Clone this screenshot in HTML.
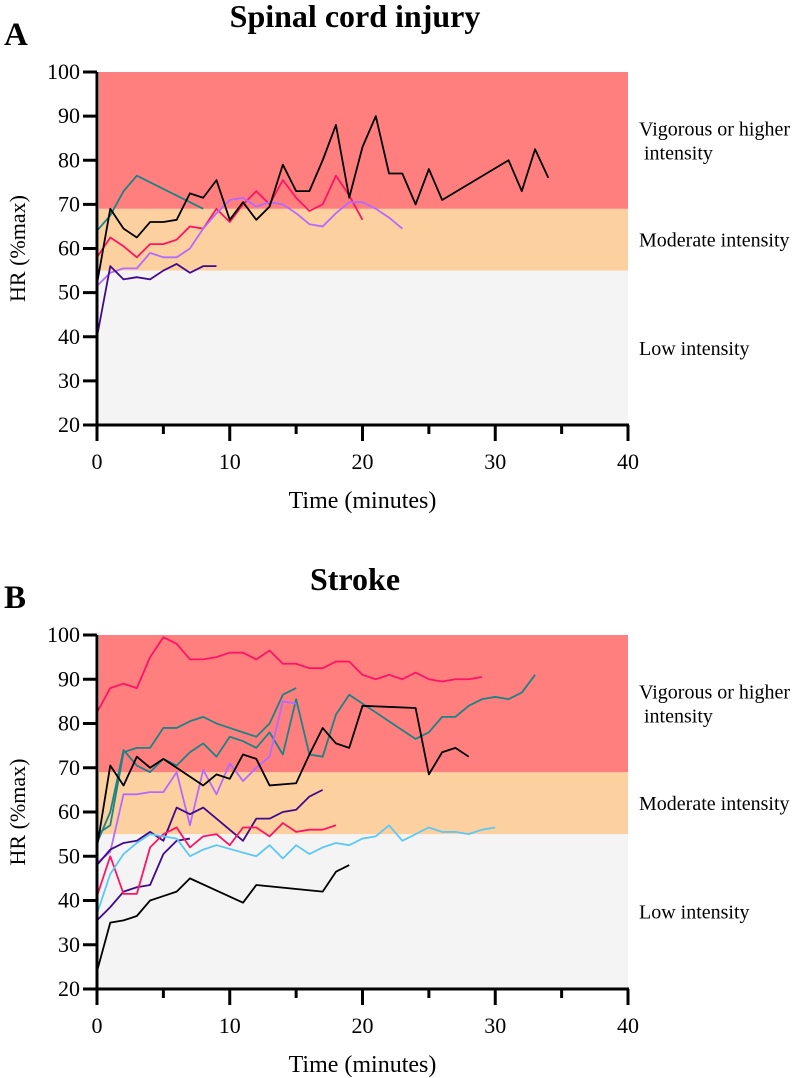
<!DOCTYPE html>
<html><head><meta charset="utf-8"><style>
body{margin:0;background:#fff}
svg{display:block;font-family:"Liberation Serif",serif}
</style></head><body>
<svg id="svg" width="800" height="1078" viewBox="0 0 800 1078" xmlns="http://www.w3.org/2000/svg"></svg>
<script>
const xTicks=[0,10,20,30,40];
const yTicks=[20,30,40,50,60,70,80,90,100];
const bands=[{name:'low',from:20,to:55,color:'#f4f4f4',label:['Low intensity']},{name:'moderate',from:55,to:69,color:'#fdd09f',label:['Moderate intensity']},{name:'vigorous',from:69,to:100,color:'#ff7f7f',label:['Vigorous or higher',' intensity']}];
// Panel A: spinal cord injury series [minute, HR]
const aBlack=[[0,52],[1,69],[2,64.5],[3,62.5],[4,66],[5,66],[6,66.5],[7,72.5],[8,71.5],[9,75.5],[10,66.5],[11,70.5],[12,66.5],[13,69.5],[14,79],[15,73],[16,73],[17,80],[18,88],[19,71.5],[20,83],[21,90],[22,77],[23,77],[24,70],[25,78],[26,71],[31,80],[32,73],[33,82.5],[34,76]];
const aTeal=[[0,64],[1,67.5],[2,73],[3,76.5],[8,69]];
const aPink=[[0,58],[1,62.5],[2,60.5],[3,58],[4,61],[5,61],[6,62],[7,65],[8,64.5],[9,69],[10,66],[11,70],[12,73],[13,70],[14,75.5],[15,71.5],[16,68.5],[17,70],[18,76.5],[19,72],[20,66.5]];
const aLav=[[0,51.5],[1,54.5],[2,55.5],[3,55.5],[4,59],[5,58],[6,58],[7,60],[8,64.5],[9,68],[10,71],[11,71.5],[12,69.5],[13,70.5],[14,70],[15,68],[16,65.5],[17,65],[18,68],[19,70.5],[20,70.5],[21,69],[22,67],[23,64.5]];
const aPurple=[[0,40],[1,56],[2,53],[3,53.5],[4,53],[5,55],[6,56.5],[7,54.5],[8,56],[9,56]];
// Panel B: stroke series
const bPink=[[0,82.5],[1,88],[2,89],[3,88],[4,95],[5,99.5],[6,98],[7,94.5],[8,94.5],[9,95],[10,96],[11,96],[12,94.5],[13,96.5],[14,93.5],[15,93.5],[16,92.5],[17,92.5],[18,94],[19,94],[20,91],[21,90],[22,91],[23,90],[24,91.5],[25,90],[26,89.5],[27,90],[28,90],[29,90.5]];
const bTeal1=[[0,55],[1,57],[2,73.5],[3,74.5],[4,74.5],[5,79],[6,79],[7,80.5],[8,81.5],[9,80],[10,79],[11,78],[12,77],[13,80],[14,86.5],[15,88]];
const bTeal2=[[0,53],[1,60],[2,74],[3,70.5],[4,69],[5,72],[6,70.5],[7,73.5],[8,75.5],[9,72.5],[10,77],[11,76],[12,74.5],[13,78],[14,73],[15,85.5],[16,73],[17,72.5],[18,82],[19,86.5],[24,76.5],[25,78],[26,81.5],[27,81.5],[28,84],[29,85.5],[30,86],[31,85.5],[32,87],[33,91]];
const bBlack1=[[0,52],[1,70.5],[2,66],[3,72.5],[4,70],[5,72],[6,70],[7,68],[8,66],[9,68.5],[10,67.5],[11,73],[12,72],[13,66],[15,66.5],[16,73],[17,79],[18,75.5],[19,74.5],[20,84],[24,83.5],[25,68.5],[26,73.5],[27,74.5],[28,72.5]];
const bLav=[[0,48.5],[1,51],[2,64],[3,64],[4,64.5],[5,64.5],[6,69],[7,57],[8,69.5],[9,64],[10,71],[11,67],[12,70],[13,72.5],[14,85],[15,84.5]];
const bPurple1=[[0,48],[1,51.5],[2,53],[3,53.5],[4,55.5],[5,53.5],[6,61],[7,59.5],[8,61],[11,53.5],[12,58.5],[13,58.5],[14,60],[15,60.5],[16,63.5],[17,65]];
const bPurple2=[[0,35.5],[1,38.5],[2,42],[3,43],[4,43.5],[5,50.5],[6,53.5],[7,54]];
const bPink2=[[0,41],[1,50],[2,41.5],[3,41.5],[4,52],[5,55],[6,56.5],[7,52],[8,54.5],[9,55],[10,52.5],[11,56.5],[12,56.5],[13,54.5],[14,57.5],[15,55.5],[16,56],[17,56],[18,57]];
const bBlue=[[0,37],[1,46],[2,50.5],[3,53],[4,55],[5,54.5],[6,54],[7,50],[8,51.5],[9,52.5],[12,50],[13,52.5],[14,49.5],[15,52.5],[16,50.5],[17,52],[18,53],[19,52.5],[20,54],[21,54.5],[22,57],[23,53.5],[24,55],[25,56.5],[26,55.5],[27,55.5],[28,55],[29,56],[30,56.5]];
const bBlack2=[[0,24],[1,35],[2,35.5],[3,36.5],[4,40],[5,41],[6,42],[7,45],[11,39.5],[12,43.5],[17,42],[18,46.5],[19,48]];

const NS='http://www.w3.org/2000/svg';
const svg=document.getElementById('svg');
function mk(tag,attrs,parent,text){const e=document.createElementNS(NS,tag);for(const k in attrs)e.setAttribute(k,attrs[k]);if(text!==undefined)e.textContent=text;(parent||svg).appendChild(e);return e;}
function panel(id,letter,title,top,bottom,series){
  const g=mk('g',{});
  
  
  const x0=97,x1=628;
  const sx=v=>x0+(v-0)/40*(x1-x0);
  const sy=v=>bottom-(v-20)/80*(bottom-top);
  const t=mk('text',{x:355,y:top-45,'text-anchor':'middle','font-size':32,'font-weight':'bold'},g,title);
  
  
  const l=mk('text',{x:4,y:top-27,'font-size':33,'font-weight':'bold'},g,letter);
  
  
  bands.forEach(b=>{
    const r=mk('rect',{x:x0+2,y:sy(b.to),width:x1-x0-2,height:sy(b.from)-sy(b.to),fill:b.color},g);
    
    
    const mid=(sy(b.from)+sy(b.to))/2;
    const lt=mk('text',{x:639,y:mid-(b.label.length-1)*12+7,'font-size':20},g);
    
    
    b.label.forEach((s,i)=>{mk('tspan',{x:639,dy:i?24:0},lt,s);});
  });
  series.forEach(s=>{
    const p=mk('polyline',{points:s.d.map(d=>sx(d[0])+','+sy(d[1])).join(' '),fill:'none',stroke:s.c,'stroke-width':1.8,'stroke-linejoin':'round'},g);
    
    
  });
  const ax=mk('path',{d:`M${x0},${top} V${bottom} H${x1+1}`,stroke:'#000','stroke-width':3,fill:'none'},g);
  
  
  yTicks.forEach(v=>{
    mk('line',{x1:83,x2:x0,y1:sy(v),y2:sy(v),stroke:'#000','stroke-width':3},g);
    const tl=mk('text',{x:80,y:sy(v)+7,'text-anchor':'end','font-size':22},g,v);
    
    
  });
  for(let v=0;v<=40;v+=5){
    const major=v%10===0;
    mk('line',{x1:sx(v),x2:sx(v),y1:bottom,y2:bottom+(major?16:9),stroke:'#000','stroke-width':3},g);
  }
  xTicks.forEach(v=>{
    const tl=mk('text',{x:sx(v),y:bottom+44,'text-anchor':'middle','font-size':22},g,v);
    
    
  });
  const xt=mk('text',{x:(x0+x1)/2,y:bottom+83,'text-anchor':'middle','font-size':24},g,'Time (minutes)');
  
  
  const yc=(top+bottom)/2;
  const yt=mk('text',{x:25,y:yc,'text-anchor':'middle','font-size':22,transform:`rotate(-90 25 ${yc})`},g,'HR (%max)');
  
  
}
panel('spinal','A','Spinal cord injury',72,425,[
 {n:'teal',c:'#1c8383',d:aTeal},{n:'pink',c:'#ff1464',d:aPink},{n:'lavender',c:'#b36bff',d:aLav},{n:'purple',c:'#3f0b8c',d:aPurple},{n:'black',c:'#000',d:aBlack}]);
panel('stroke','B','Stroke',635,989,[
 {n:'pink-high',c:'#ff1464',d:bPink},{n:'teal-1',c:'#1c8383',d:bTeal1},{n:'teal-2',c:'#1c8383',d:bTeal2},{n:'lavender',c:'#b36bff',d:bLav},{n:'purple-1',c:'#3f0b8c',d:bPurple1},{n:'purple-2',c:'#3f0b8c',d:bPurple2},{n:'pink-low',c:'#ff1464',d:bPink2},{n:'blue',c:'#5ec8f5',d:bBlue},{n:'black-1',c:'#000',d:bBlack1},{n:'black-2',c:'#000',d:bBlack2}]);
</script>
</body></html>
